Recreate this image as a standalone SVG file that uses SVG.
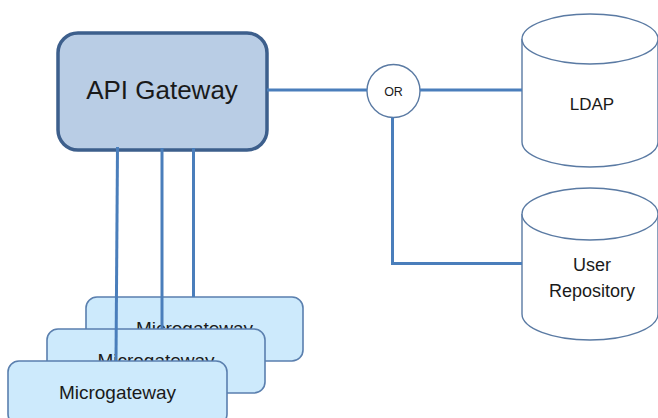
<svg xmlns="http://www.w3.org/2000/svg" width="658" height="418" viewBox="0 0 658 418">
  <style>
    .gw { fill: #b9cde5; stroke: #3d5f8c; stroke-width: 3.5; }
    .mg { fill: #cdeafc; stroke: #5a7fae; stroke-width: 1.6; }
    .db { fill: #ffffff; stroke: #5a7aa3; stroke-width: 1.4; }
    .or { fill: #ffffff; stroke: #5a7aa3; stroke-width: 1.4; }
    .conn { fill: none; stroke: #4a7ebb; stroke-width: 3; }
    text { font-family: "Liberation Sans", Arial, sans-serif; fill: #1a1a1a; text-anchor: middle; }
  </style>

  <!-- gateway -->
  <g id="api-gateway">
    <rect class="gw" x="58" y="33" width="209" height="117" rx="20" ry="20"/>
    <text x="162" y="99" font-size="26">API Gateway</text>
  </g>

  <!-- OR junction -->
  <g id="or-junction">
    <circle class="or" cx="393.5" cy="91" r="26.5"/>
    <text x="393.5" y="95.5" font-size="12.5">OR</text>
  </g>

  <!-- LDAP store -->
  <g id="ldap">
    <path class="db" d="M522,39 L522,142 A68,25 0 0 0 658,142 L658,39"/>
    <ellipse class="db" cx="590" cy="39" rx="68" ry="25"/>
    <text x="592" y="110" font-size="17">LDAP</text>
  </g>

  <!-- user repository store -->
  <g id="user-repository">
    <path class="db" d="M522,214 L522,314 A68,26 0 0 0 658,314 L658,214"/>
    <ellipse class="db" cx="590" cy="214" rx="68" ry="26"/>
    <text x="592" y="271" font-size="18">User</text>
    <text x="592" y="297" font-size="18">Repository</text>
  </g>

  <!-- stacked microgateways, back to front -->
  <g id="microgateway-3">
    <rect class="mg" x="86" y="297" width="217" height="64" rx="11" ry="11"/>
    <text x="194.5" y="335" font-size="19">Microgateway</text>
  </g>
  <g id="microgateway-2">
    <rect class="mg" x="47" y="329" width="218" height="64" rx="11" ry="11"/>
    <text x="156" y="367" font-size="19">Microgateway</text>
  </g>
  <g id="microgateway-1">
    <rect class="mg" x="8" y="361" width="219" height="64" rx="11" ry="11"/>
    <text x="117.5" y="399" font-size="19">Microgateway</text>
  </g>

  <!-- connectors -->
  <g id="connectors">
    <line class="conn" x1="267" y1="90" x2="367" y2="90"/>
    <line class="conn" x1="420" y1="90" x2="522" y2="90"/>
    <polyline class="conn" points="392.5,117.5 392.5,263.5 522,263.5"/>
    <line class="conn" x1="117.5" y1="147" x2="116" y2="361"/>
    <line class="conn" x1="162" y1="148" x2="162" y2="329"/>
    <line class="conn" x1="193.5" y1="148" x2="193.5" y2="297"/>
  </g>
</svg>
